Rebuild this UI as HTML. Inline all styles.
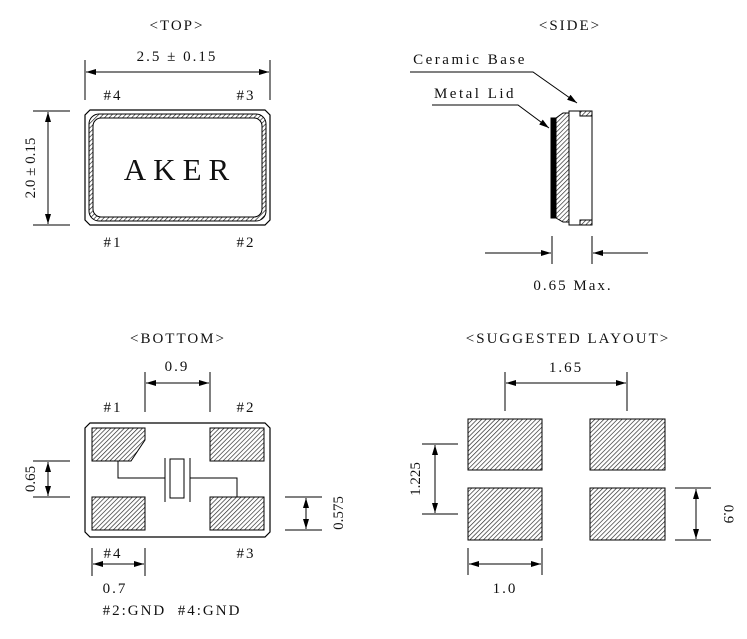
<!DOCTYPE html>
<html><head><style>body{margin:0;background:#fff}svg{display:block}text{font-family:"Liberation Serif",serif;fill:#111;letter-spacing:2px}</style></head>
<body>
<svg width="747" height="639" viewBox="0 0 747 639" xmlns="http://www.w3.org/2000/svg">
<defs>
<pattern id="h" width="3.2" height="3.2" patternUnits="userSpaceOnUse" patternTransform="rotate(45)"><rect width="3.2" height="3.2" fill="#fff"/><line x1="0" y1="0" x2="0" y2="3.2" stroke="#222" stroke-width="1.3"/></pattern>
<marker id="a" viewBox="0 0 10 6" refX="10" refY="3" markerWidth="14" markerHeight="6" markerUnits="userSpaceOnUse" orient="auto-start-reverse"><path d="M0,0L10,3L0,6z" fill="#000"/></marker>
</defs>
<g stroke="#000" stroke-width="1" fill="none">
<!-- TOP -->
<path d="M90,110H265L270,115V220L265,225H90L85,220V115Z" stroke-width="1.2"/>
<rect x="89" y="114" width="177" height="107" rx="10" fill="url(#h)" stroke-width="1"/>
<rect x="93" y="118" width="169" height="99" rx="8" fill="#fff"/>
<line x1="85" y1="60" x2="85" y2="100"/><line x1="270" y1="60" x2="270" y2="100"/>
<line x1="86" y1="72" x2="269" y2="72" marker-start="url(#a)" marker-end="url(#a)"/>
<line x1="33" y1="111" x2="70" y2="111"/><line x1="33" y1="225" x2="70" y2="225"/>
<line x1="48" y1="112" x2="48" y2="224" marker-start="url(#a)" marker-end="url(#a)"/>
<!-- SIDE -->
<rect x="551" y="118" width="5" height="100" fill="#000"/>
<path d="M556,118L563,113H570V222H563L556,218Z" fill="url(#h)"/>
<rect x="569" y="111" width="23" height="114" fill="#fff"/>
<rect x="580" y="111" width="12" height="5" fill="url(#h)"/>
<rect x="580" y="220" width="12" height="5" fill="url(#h)"/>
<polyline points="410,72 533,72 577,103" marker-end="url(#a)"/>
<polyline points="432,105 518,105 549,128" marker-end="url(#a)"/>
<line x1="552" y1="236" x2="552" y2="264"/><line x1="592" y1="236" x2="592" y2="264"/>
<line x1="485" y1="253" x2="551" y2="253" marker-end="url(#a)"/>
<line x1="648" y1="253" x2="593" y2="253" marker-end="url(#a)"/>
<!-- BOTTOM -->
<path d="M90,423H265L270,428V532L265,537H90L85,532V428Z" stroke-width="1.2"/>
<path d="M92,428H145V440L131,461H92Z" fill="url(#h)"/>
<rect x="210" y="428" width="54" height="33" fill="url(#h)"/>
<rect x="92" y="497" width="53" height="33" fill="url(#h)"/>
<rect x="210" y="497" width="54" height="33" fill="url(#h)"/>
<rect x="170" y="459" width="14" height="39"/>
<line x1="165" y1="458" x2="165" y2="502"/><line x1="190" y1="458" x2="190" y2="502"/>
<polyline points="118,461 118,478 165,478"/>
<polyline points="190,478 237,478 237,497"/>
<line x1="145" y1="372" x2="145" y2="412"/><line x1="210" y1="372" x2="210" y2="412"/>
<line x1="146" y1="383" x2="209" y2="383" marker-start="url(#a)" marker-end="url(#a)"/>
<line x1="33" y1="461" x2="70" y2="461"/><line x1="33" y1="497" x2="70" y2="497"/>
<line x1="48" y1="462" x2="48" y2="496" marker-start="url(#a)" marker-end="url(#a)"/>
<line x1="285" y1="497" x2="322" y2="497"/><line x1="285" y1="530" x2="322" y2="530"/>
<line x1="306" y1="498" x2="306" y2="529" marker-start="url(#a)" marker-end="url(#a)"/>
<line x1="92" y1="548" x2="92" y2="576"/><line x1="145" y1="548" x2="145" y2="576"/>
<line x1="93" y1="564" x2="144" y2="564" marker-start="url(#a)" marker-end="url(#a)"/>
<!-- LAYOUT -->
<rect x="468" y="419" width="74" height="51" fill="url(#h)"/>
<rect x="590" y="419" width="75" height="51" fill="url(#h)"/>
<rect x="468" y="488" width="74" height="52" fill="url(#h)"/>
<rect x="590" y="488" width="75" height="52" fill="url(#h)"/>
<line x1="505" y1="372" x2="505" y2="411"/><line x1="627" y1="372" x2="627" y2="411"/>
<line x1="506" y1="383" x2="626" y2="383" marker-start="url(#a)" marker-end="url(#a)"/>
<line x1="422" y1="444" x2="458" y2="444"/><line x1="422" y1="514" x2="458" y2="514"/>
<line x1="435" y1="445" x2="435" y2="513" marker-start="url(#a)" marker-end="url(#a)"/>
<line x1="675" y1="488" x2="711" y2="488"/><line x1="675" y1="540" x2="711" y2="540"/>
<line x1="696" y1="489" x2="696" y2="539" marker-start="url(#a)" marker-end="url(#a)"/>
<line x1="468" y1="548" x2="468" y2="575"/><line x1="542" y1="548" x2="542" y2="575"/>
<line x1="469" y1="564" x2="541" y2="564" marker-start="url(#a)" marker-end="url(#a)"/>
</g>
<g font-size="15" text-anchor="middle">
<text x="177" y="30">&lt;TOP&gt;</text>
<text x="177" y="61">2.5 ± 0.15</text>
<text x="113" y="100">#4</text><text x="246" y="100">#3</text>
<text x="113" y="247">#1</text><text x="246" y="247">#2</text>
<text x="180" y="180" font-size="31" style="letter-spacing:7px">AKER</text>
<text transform="translate(35,168) rotate(-90)" style="letter-spacing:0">2.0 ± 0.15</text>
<text x="570" y="30">&lt;SIDE&gt;</text>
<text x="470" y="64" style="letter-spacing:2.5px">Ceramic Base</text>
<text x="475" y="98" style="letter-spacing:2.5px">Metal Lid</text>
<text x="573" y="290">0.65 Max.</text>
<text x="178" y="343">&lt;BOTTOM&gt;</text>
<text x="177" y="371">0.9</text>
<text x="113" y="412">#1</text><text x="246" y="412">#2</text>
<text transform="translate(35,479) rotate(-90)" style="letter-spacing:0">0.65</text>
<text transform="translate(343,513) rotate(-90)" style="letter-spacing:0">0.575</text>
<text x="113" y="558">#4</text><text x="246" y="558">#3</text>
<text x="115" y="593">0.7</text>
<text x="172" y="615">#2:GND&#160;&#160;#4:GND</text>
<text x="568" y="343">&lt;SUGGESTED LAYOUT&gt;</text>
<text x="566" y="372">1.65</text>
<text transform="translate(420,479) rotate(-90)" style="letter-spacing:0">1.225</text>
<text transform="translate(724,514) rotate(90)" style="letter-spacing:0">0.9</text>
<text x="505" y="593">1.0</text>
</g>
</svg>
</body></html>
